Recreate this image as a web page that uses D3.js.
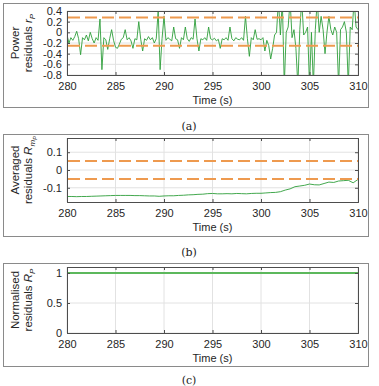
<!DOCTYPE html>
<html><head><meta charset="utf-8">
<script src="https://cdn.jsdelivr.net/npm/d3@7"></script>
<style>
body{margin:0;background:#fff;}
svg{display:block;}
text{font-family:"Liberation Sans",Arial,sans-serif;}
</style></head>
<body>
<script>
// ---- DATA ----
const xTicks = [280, 285, 290, 295, 300, 305, 310];
// Panel (a): power residuals r_P, sampled every 0.2 s from 280 s to 310 s
const tStartA = 280, tStepA = 0.2;
const residualsA = [
  -0.05, -0.2, -0.1, -0.15, -0.08, 0.02, -0.12, -0.42, -0.1, -0.14,
  -0.05, -0.16, 0.0, -0.12, -0.2, -0.1, -0.15, 0.25, -0.7, -0.1,
  -0.14, -0.32, -0.12, 0.05, -0.15, -0.28, -0.3, -0.22, -0.13, -0.1,
  0.05, -0.14, -0.1, -0.16, -0.3, -0.12, -0.14, 0.2, -0.13, -0.35,
  -0.12, -0.15, -0.08, -0.14, -0.1, -0.2, -0.12, 0.4, -0.7, -0.12,
  0.3, -0.15, -0.1, -0.13, -0.16, 0.1, -0.12, -0.14, -0.3, -0.1,
  -0.14, 0.1, -0.12, -0.17, -0.1, -0.13, 0.25, -0.12, -0.35, -0.12,
  -0.14, -0.1, -0.15, 0.1, -0.12, -0.14, -0.11, -0.16, -0.13, -0.3,
  -0.12, -0.14, -0.1, -0.15, 0.1, -0.12, -0.16, -0.1, -0.13, -0.14,
  -0.1, -0.15, 0.3, -0.12, -0.45, -0.1, -0.14, 0.05, -0.13, -0.12,
  -0.14, -0.1, -0.35, -0.15, -0.25, -0.5, -0.3, -0.05, 0.0, 0.6,
  -0.05, 0.6, -1.0, 0.0, 0.1, 0.6, -0.1, 0.05, -0.3, -1.0,
  0.05, 0.6, -0.05, 0.0, 0.1, -1.0, 0.0, -1.0, 0.05, 0.6,
  0.0, 0.3, 0.05, -0.4, 0.0, 0.3, 0.05, -0.05, 0.1, 0.0,
  -1.0, 0.05, 0.1, 0.2, 0.0, -1.0, 0.1, 0.05, 0.6, 0.1,
  0.05
];
const thresholdsA = [0.28, -0.25];
const yTicksA = [0.4, 0.2, 0, -0.2, -0.4, -0.6, -0.8];

// Panel (b): averaged residuals R_mP, every 0.5 s
const tStartB = 280, tStepB = 0.5;
const averagedB = [
  -0.149, -0.149, -0.150, -0.149, -0.149, -0.148, -0.147, -0.146, -0.145, -0.144,
  -0.143, -0.143, -0.143, -0.143, -0.144, -0.144, -0.145, -0.146, -0.146, -0.148,
  -0.146, -0.145, -0.145, -0.143, -0.142, -0.140, -0.139, -0.137, -0.136, -0.133,
  -0.132, -0.134, -0.134, -0.133, -0.134, -0.132, -0.133, -0.134, -0.132, -0.131,
  -0.131, -0.129, -0.127, -0.126, -0.122, -0.113, -0.106, -0.094, -0.090, -0.086,
  -0.079, -0.083, -0.084, -0.076, -0.068, -0.070, -0.062, -0.060, -0.058, -0.072,
  -0.053
];
const thresholdsB = [0.05, -0.05];
const yTicksB = [0.1, 0, -0.1];

// Panel (c): normalised residuals R_P
const timesC = [280, 310];
const normalisedC = [1, 1];
const yTicksC = [0, 0.5, 1];

// ---- DRAWING ----
const W = 379, H = 386;
const svg = d3.select("body").append("svg").attr("width", W).attr("height", H);
const green = "#2e9e3a", orange = "#ee9a4f";
const x0 = 67, x1 = 358;

function panel(cfg) {
  const g = svg.append("g");
  g.append("rect").attr("x", 3.5).attr("y", cfg.frameTop + 0.5)
    .attr("width", 365).attr("height", cfg.frameBottom - cfg.frameTop)
    .attr("fill", "none").attr("stroke", "#8a8a8a").attr("stroke-width", 1);
  const x = d3.scaleLinear().domain([280, 310]).range([x0, x1]);
  const y = d3.scaleLinear().domain(cfg.yDomain).range([cfg.bottom, cfg.top]);
  g.append("g").selectAll("line").data(xTicks).join("line")
    .attr("x1", d => x(d)).attr("x2", d => x(d)).attr("y1", cfg.top).attr("y2", cfg.bottom)
    .attr("stroke", "#e2e2e2").attr("stroke-width", 1);
  g.append("g").selectAll("line").data(cfg.yTicks).join("line")
    .attr("x1", x0).attr("x2", x1).attr("y1", d => y(d)).attr("y2", d => y(d))
    .attr("stroke", "#e2e2e2").attr("stroke-width", 1);
  const clipId = "clip" + cfg.id;
  g.append("clipPath").attr("id", clipId).append("rect")
    .attr("x", x0).attr("y", cfg.top).attr("width", x1 - x0).attr("height", cfg.bottom - cfg.top);
  const plot = g.append("g").attr("clip-path", `url(#${clipId})`);
  const line = d3.line().x(d => x(d[0])).y(d => y(d[1]));
  plot.append("path").datum(cfg.series).attr("d", line)
    .attr("fill", "none").attr("stroke", cfg.lineColor || green)
    .attr("stroke-width", cfg.lineWidth || 0.9).attr("stroke-linejoin", "round");
  (cfg.thresholds || []).forEach(v => {
    plot.append("line").attr("x1", x0 + 1).attr("x2", x1).attr("y1", y(v)).attr("y2", y(v))
      .attr("stroke", orange).attr("stroke-width", 2).attr("stroke-dasharray", "12,5");
  });
  const ax = d3.axisBottom(x).tickValues(xTicks).tickSize(-3).tickPadding(7).tickFormat(d3.format("d"));
  const axT = d3.axisTop(x).tickValues(xTicks).tickSize(-3).tickFormat("");
  const ay = d3.axisLeft(y).tickValues(cfg.yTicks).tickSize(-3).tickPadding(5).tickFormat(d => d === 0 ? "0" : String(d));
  const ayR = d3.axisRight(y).tickValues(cfg.yTicks).tickSize(-3).tickFormat("");
  const styleAxis = sel => {
    sel.selectAll(".domain").attr("stroke", "#4d4d4d").attr("stroke-width", 1);
    sel.selectAll(".tick line").attr("stroke", "#4d4d4d");
    sel.selectAll("text").attr("fill", "#262626").style("font-size", "11px").style("font-family", '"Liberation Sans", Arial, sans-serif');
  };
  g.append("g").attr("transform", `translate(0,${cfg.bottom})`).call(ax).call(styleAxis);
  g.append("g").attr("transform", `translate(0,${cfg.top})`).call(axT).call(styleAxis);
  g.append("g").attr("transform", `translate(${x0},0)`).call(ay).call(styleAxis);
  g.append("g").attr("transform", `translate(${x1},0)`).call(ayR).call(styleAxis);
  g.append("text").attr("x", (x0 + x1) / 2).attr("y", cfg.bottom + 29)
    .attr("text-anchor", "middle").attr("fill", "#262626").style("font-size", "11px").text("Time (s)");
  const cy = (cfg.top + cfg.bottom) / 2;
  g.append("text").attr("transform", `translate(19,${cy}) rotate(-90)`)
    .attr("text-anchor", "middle").attr("fill", "#262626").style("font-size", "11.5px").text(cfg.label1);
  const t2 = g.append("text").attr("transform", `translate(32,${cy}) rotate(-90)`)
    .attr("text-anchor", "middle").attr("fill", "#262626").style("font-size", "11.5px");
  cfg.label2(t2);
  svg.append("text").attr("x", 189).attr("y", cfg.caption).attr("text-anchor", "middle")
    .style("font-family", '"DejaVu Serif","Liberation Serif",serif').style("font-size", "11px")
    .attr("fill", "#222").text(cfg.captionText);
}

const seriesA = residualsA.map((v, i) => [tStartA + i * tStepA, v]);
const seriesB = averagedB.map((v, i) => [tStartB + i * tStepB, v]);
const seriesC = timesC.map((t, i) => [t, normalisedC[i]]);

panel({
  id: "a", frameTop: 3, frameBottom: 107, top: 11, bottom: 75, yDomain: [-0.8, 0.4],
  yTicks: yTicksA, series: seriesA, thresholds: thresholdsA,
  label1: "Power",
  label2: t => { t.append("tspan").text("residuals "); t.append("tspan").style("font-style", "italic").text("r");
    t.append("tspan").attr("dy", 3).style("font-style", "italic").style("font-size", "8px").text("P"); },
  caption: 130, captionText: "(a)"
});
panel({
  id: "b", frameTop: 134, frameBottom: 236, top: 138, bottom: 202, yDomain: [-0.18, 0.18],
  yTicks: yTicksB, series: seriesB, thresholds: thresholdsB,
  label1: "Averaged",
  label2: t => { t.append("tspan").text("residuals "); t.append("tspan").style("font-style", "italic").text("R");
    t.append("tspan").attr("dy", 3).style("font-style", "italic").style("font-size", "8px").text("m");
    t.append("tspan").attr("dy", 2).style("font-style", "italic").style("font-size", "6px").text("P"); },
  caption: 256, captionText: "(b)"
});
panel({
  id: "c", frameTop: 263, frameBottom: 366, top: 267, bottom: 333, yDomain: [0, 1.1],
  yTicks: yTicksC, series: seriesC, thresholds: [], lineColor: "#5cb85c", lineWidth: 2,
  label1: "Normalised",
  label2: t => { t.append("tspan").text("residuals "); t.append("tspan").style("font-style", "italic").text("R");
    t.append("tspan").attr("dy", 3).style("font-style", "italic").style("font-size", "8px").text("P"); },
  caption: 384, captionText: "(c)"
});
</script>
</body></html>
